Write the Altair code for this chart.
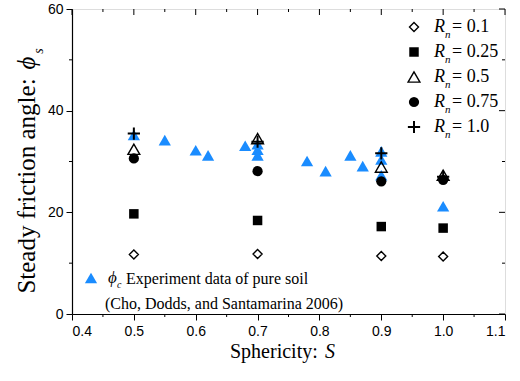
import altair as alt
import pandas as pd

# ---------------- data ----------------
sphericity = [0.5, 0.7, 0.9, 1.0]
rn_01 = [11.7, 11.8, 11.4, 11.3]
rn_025 = [19.7, 18.4, 17.2, 16.9]
rn_05 = [32.4, 34.5, 28.9, 27.3]
rn_075 = [30.6, 28.1, 26.1, 26.4]
rn_10 = [35.5, 33.9, 31.6, 27.0]

exp_s = [0.5, 0.55, 0.6, 0.62, 0.68, 0.7, 0.7, 0.7, 0.78, 0.81, 0.85, 0.87, 0.9, 0.9, 0.9, 1.0]
exp_phi = [35.2, 34.2, 32.2, 31.2, 33.1, 33.4, 32.3, 31.2, 30.1, 28.1, 31.2, 29.1, 32.0, 30.4, 27.3, 21.2]

rn_labels = ["0.1", "0.25", "0.5", "0.75", "1.0"]
x_major = [0.4, 0.5, 0.6, 0.7, 0.8, 0.9, 1.0, 1.1]
x_minor = [0.45, 0.55, 0.65, 0.75, 0.85, 0.95, 1.05]
y_major = [0, 20, 40, 60]
y_minor = [10, 30, 50]

W, H = 433, 305
OX, OY = 72, 9  # plot origin on the page
SERIF = "Liberation Serif"
SANS = "Liberation Sans"
BLUE = "#1a8cff"
PLUS = "M-1,0L1,0M0,-1L0,1"

xs = alt.Scale(domain=[0.4, 1.1], nice=False, zero=False)
ys = alt.Scale(domain=[0, 60], nice=False, zero=False)


def px(x):
    return x - OX


def py(y):
    return y - OY


exp_df = pd.DataFrame({"s": exp_s, "phi": exp_phi})

series = [
    (rn_01, "diamond", False, 81),
    (rn_025, "square", True, 90),
    (rn_05, "triangle-up", False, 140),
    (rn_075, "circle", True, 105),
    (rn_10, PLUS, False, 150),
]

layers = []

# blue experiment layer carrying the labelled axes (outward major ticks)
layers.append(
    alt.Chart(exp_df).mark_point(shape="triangle-up", filled=True, color=BLUE, size=150, opacity=1).encode(
        x=alt.X("s:Q", scale=xs, axis=alt.Axis(values=x_major, format=".1f", tickSize=6, tickColor="black",
                                               labelPadding=4, title=None, labelFont=SANS, labelFontSize=14,
                                               labelColor="black", grid=False, domain=True, domainColor="black",
                                               domainWidth=1.2)),
        y=alt.Y("phi:Q", scale=ys, axis=alt.Axis(values=y_major, format="d", tickSize=6, tickColor="black",
                                                 labelPadding=3, title=None, labelFont=SANS, labelFontSize=14,
                                                 labelColor="black", grid=False, domain=True, domainColor="black",
                                                 domainWidth=1.2)),
    )
)

# extra ticks built from the tick-value arrays
xmin_df = pd.DataFrame({"s": x_minor})
xmaj_df = pd.DataFrame({"s": x_major})
ymin_df = pd.DataFrame({"phi": y_minor})
ymaj_df = pd.DataFrame({"phi": y_major})


def xt(df, y1, y2):
    return alt.Chart(df).mark_rule(color="black", strokeWidth=1).encode(
        x=alt.X("s:Q", scale=xs, axis=None), y=alt.value(y1), y2=alt.value(y2))


def yt(df, x1, x2):
    return alt.Chart(df).mark_rule(color="black", strokeWidth=1).encode(
        y=alt.Y("phi:Q", scale=ys, axis=None), x=alt.value(x1), x2=alt.value(x2))


layers += [
    xt(xmin_df, H, H + 3),      # bottom minor, outward
    xt(xmaj_df, 0, 6),          # top major, inward
    xt(xmin_df, 0, 3),          # top minor, inward
    yt(ymin_df, -3, 0),         # left minor, outward
    yt(ymaj_df, W - 6, W),      # right major, inward
    yt(ymin_df, W - 3, W),      # right minor, inward
]

# R_n data layers
for vals, shape, filled, size in series:
    df = pd.DataFrame({"s": sphericity, "phi": vals})
    if filled:
        mk = alt.Chart(df).mark_point(shape=shape, filled=True, color="black", size=size, opacity=1)
    else:
        mk = alt.Chart(df).mark_point(shape=shape, filled=False, color="black", size=size, opacity=1,
                                      strokeWidth=2 if shape == PLUS else 1.4)
    layers.append(mk.encode(x=alt.X("s:Q", scale=xs, axis=None), y=alt.Y("phi:Q", scale=ys, axis=None)))

# ---------------- legend (top right) ----------------
one = pd.DataFrame({"k": [0]})


def txt(text, x, y, size, italic=False, angle=None, align="left"):
    kw = dict(text=text, font=SERIF, fontSize=size, align=align, baseline="middle", color="black")
    if italic:
        kw["fontStyle"] = "italic"
    if angle is not None:
        kw["angle"] = angle
    return alt.Chart(one).mark_text(**kw).encode(x=alt.value(px(x)), y=alt.value(py(y)))


for i, ((vals, shape, filled, size), lab) in enumerate(zip(series, rn_labels)):
    yy = 27 + 25 * i
    if filled:
        sym = alt.Chart(one).mark_point(shape=shape, filled=True, color="black", size=size, opacity=1)
    else:
        sym = alt.Chart(one).mark_point(shape=shape, filled=False, color="black", size=size, opacity=1,
                                        strokeWidth=2 if shape == PLUS else 1.4)
    layers.append(sym.encode(x=alt.value(px(414)), y=alt.value(py(yy))))
    layers.append(txt("R", 434, yy, 18, italic=True))
    layers.append(txt("n", 445, yy + 8, 11, italic=True))
    layers.append(txt("= " + lab, 452, yy, 18))

# blue legend (bottom left)
layers.append(alt.Chart(one).mark_point(shape="triangle-up", filled=True, color=BLUE, size=150, opacity=1)
              .encode(x=alt.value(px(91)), y=alt.value(py(278))))
layers.append(txt("ϕ", 108, 278, 17, italic=True))
layers.append(txt("c", 117, 285, 10, italic=True))
layers.append(txt("Experiment data of pure soil", 126, 279, 16))
layers.append(txt("(Cho, Dodds, and Santamarina 2006)", 105, 304, 16))

# ---------------- axis titles ----------------
layers.append(txt("Sphericity: ", 230, 352, 20))
layers.append(txt("S", 325, 352, 20, italic=True))

layers.append(txt("Steady friction angle:", 27, 186, 25, angle=270, align="center"))
layers.append(txt("ϕ", 27, 63, 25, italic=True, angle=270, align="center"))
layers.append(txt("s", 39, 51, 14, italic=True, angle=270, align="center"))

chart = alt.layer(*layers).resolve_axis(x="independent", y="independent").properties(
    width=W, height=H,
    autosize=alt.AutoSizeParams(type="none"),
    padding={"left": OX, "top": OY, "right": 520 - OX - W, "bottom": 381 - OY - H},
).configure_view(stroke="black", strokeWidth=1.2).configure(background="white")

chart.save("out.html", embed_options={"renderer": "svg", "actions": False})
